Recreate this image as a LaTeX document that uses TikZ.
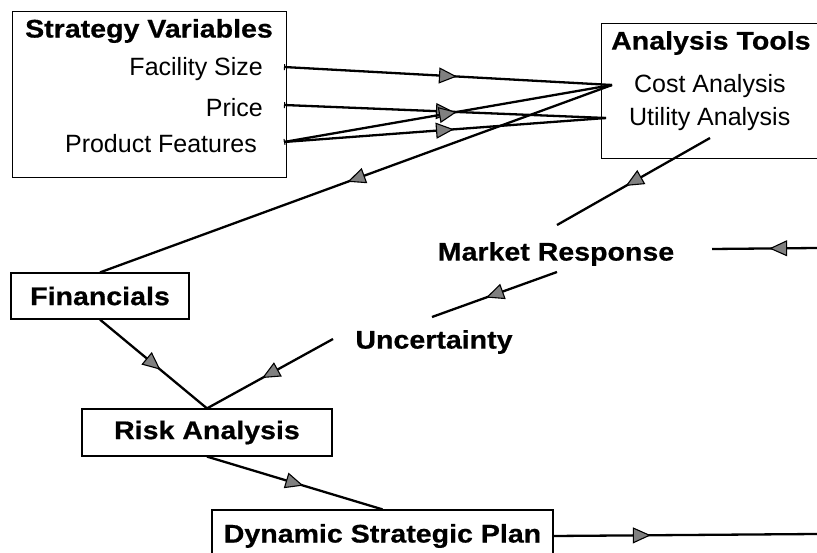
\documentclass[tikz,border=0pt]{standalone}
\usepackage{fontspec}
\setmainfont{Liberation Sans}
\newfontfamily\headfont[FakeStretch=1.12,FakeBold=0.6]{Liberation Sans}
\usepackage{tikz}
\usetikzlibrary{arrows.meta}
\usetikzlibrary{positioning}
\usetikzlibrary{decorations.markings}
\tikzset{
    flow/.style={draw=black, postaction={decorate},
        decoration={markings,mark=at position #1 with {\arrow[xshift=9pt]{Triangle[length=18pt,width=16pt,line width=1.1pt,fill=gray]}}}},
    flow/.default=.5,
    box/.style={draw=black, line width=1.2pt, rectangle, inner sep=0pt},
    heading/.style={font=\headfont\bfseries\fontsize{25.5}{30}\selectfont},
    entry/.style={font=\fontsize{25}{29}\selectfont, inner sep=0pt},
}
\begin{document}
\begin{tikzpicture}[x=1pt, y=-1pt, line width=2.3pt]
	\useasboundingbox (0,0) rectangle (817,553);
	% strategy variables
	\node[box, anchor=north west, minimum width=274pt, minimum height=166pt] (strat) at (12,11) {};
	\node[heading] (strat-title) at (149,31) {Strategy Variables};
	\node[entry, anchor=east] (size) at (264,69) {Facility Size};
	\node[entry, anchor=east] (price) at (264,108) {Price};
	\node[entry, anchor=east] (feat) at (258,144) {Product Features};
	\coordinate (size-out) at (284,67);
	\coordinate (price-out) at (284,105);
	\coordinate (feat-out) at (284,142);
	% analysis tools
	\node[box, anchor=north west, minimum width=240pt, minimum height=135pt] (tools) at (601,23) {};
	\node[heading, anchor=west, inner sep=0pt] (tools-title) at (610,43) {Analysis Tools};
	\node[entry, anchor=west] (cost) at (633,86) {Cost Analysis};
	\node[entry, anchor=west] (util) at (628,119) {Utility Analysis};
	\coordinate (cost-in) at (612,85);
	\coordinate (util-in) at (606,118);
	\coordinate (util-out) at (710,138);
	% middle column
	\node[heading] (market) at (556,254) {Market Response};
	\coordinate (market-top) at (557,225);
	\coordinate (market-bot) at (557,272);
	\coordinate (market-in) at (712,249);
	\coordinate (market-far) at (817,248);
	\node[heading] (unc) at (434,342) {Uncertainty};
	\coordinate (unc-top) at (432,317);
	\coordinate (unc-out) at (333,339);
	% boxes on the left
	\node[box, heading, minimum width=178pt, minimum height=46pt] (fin) at (100,296) {Financials};
	\node[box, heading, minimum width=250pt, minimum height=47pt] (risk) at (207,432.5) {Risk Analysis};
	\node[box, heading, minimum width=341pt, minimum height=52pt] (plan) at (382.5,536) {Dynamic Strategic Plan};
	\coordinate (plan-far) at (817,534);

	\draw[{Bar[width=6pt,line width=1pt]}-, flow] (size-out)--(cost-in);
	\draw[{Bar[width=6pt,line width=1pt]}-, flow] (price-out)--(util-in);
	\draw[{Bar[width=6pt,line width=1pt]}-, flow] (feat-out)--(cost-in);
	\draw[flow] (feat-out)--(util-in);
	\draw[flow] (cost-in)--(fin.north);
	\draw[flow] (util-out)--(market-top);
	\draw[flow=.37] (market-far)--(market-in);
	\draw[flow] (market-bot)--(unc-top);
	\draw[flow] (unc-out)--(risk.north);
	\draw[flow] (fin.south)--(risk.north);
	\draw[flow] (risk.south)--(plan.north);
	\draw[flow=.335] (plan.east)--(plan-far);
\end{tikzpicture}
\end{document}
